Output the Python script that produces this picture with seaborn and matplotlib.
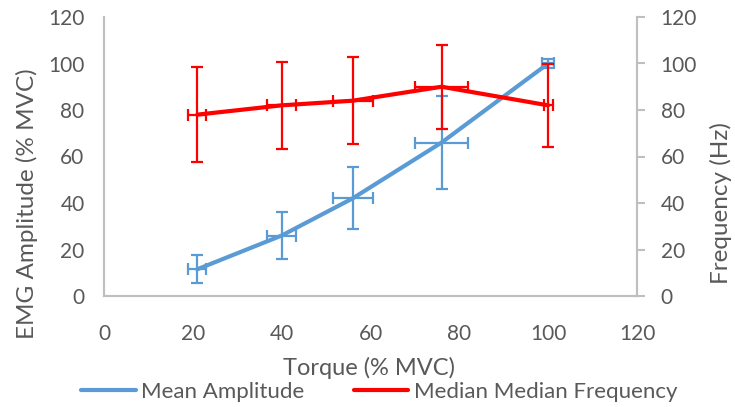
import pandas as pd
import matplotlib.pyplot as plt
import seaborn as sns

# data
torque = [21, 40, 56, 76, 100]
torque_err = [2, 3.2, 4.5, 6, 1.3]
amplitude = [11.5, 26, 42, 66, 100]
amplitude_err = [6, 10.3, 13.3, 20, 2]
frequency = [78, 82, 84, 90, 82]
frequency_err = [20.3, 18.6, 18.6, 18, 17.8]
freq_torque_err = [2, 3.2, 4.5, 6, 1]

BLUE = "#5B9BD5"
RED = "#FF0000"
GRAY = "#BFBFBF"
TEXT = "#595959"

sns.set_theme(style="white")
plt.rcParams['font.family'] = ['Lato', 'DejaVu Sans']
plt.rcParams['text.color'] = TEXT
plt.rcParams['axes.labelcolor'] = TEXT
plt.rcParams['xtick.color'] = TEXT
plt.rcParams['ytick.color'] = TEXT

df = pd.DataFrame({"Torque": torque, "Amplitude": amplitude, "Frequency": frequency})

fig = plt.figure(figsize=(7.35, 4.07), dpi=100)
ax = fig.add_axes([104 / 735, 1 - 296 / 407, 533 / 735, 279 / 407])
ax2 = ax.twinx()

sns.lineplot(data=df, x="Torque", y="Amplitude", ax=ax, color=BLUE, linewidth=3, label="Mean Amplitude", legend=False)
ax.errorbar(torque, amplitude, xerr=torque_err, yerr=amplitude_err, fmt="none",
            ecolor=BLUE, elinewidth=1.6, capsize=4, capthick=1.6)

sns.lineplot(data=df, x="Torque", y="Frequency", ax=ax2, color=RED, linewidth=3, label="Median Median Frequency", legend=False)
ax2.errorbar(torque, frequency, xerr=freq_torque_err, yerr=frequency_err, fmt="none",
             ecolor=RED, elinewidth=1.6, capsize=4, capthick=1.6)

for a in (ax, ax2):
    a.set_xlim(0, 120)
    a.set_ylim(0, 120)
    a.set_yticks(range(0, 121, 20))
    for s in a.spines.values():
        s.set_color(GRAY)
        s.set_linewidth(1.5)
    a.spines["top"].set_visible(False)

ax.set_xticks(range(0, 121, 20))
ax.tick_params(axis="x", length=0, labelsize=15, pad=20)
ax.tick_params(axis="y", length=0, labelsize=15, pad=14)
ax2.tick_params(axis="y", length=6, width=1.5, color=GRAY, labelsize=15, pad=11)

ax.set_xlabel("Torque (% MVC)", fontsize=17)
ax.set_ylabel("EMG Amplitude (% MVC)", fontsize=17.5)
ax2.set_ylabel("Frequency (Hz)", fontsize=17.5)
ax.xaxis.label.set_va("center")
ax.yaxis.label.set_va("center")
ax2.yaxis.label.set_va("center")
ax.xaxis.set_label_coords(0.502, 1 - 368 / 407, transform=fig.transFigure)
ax.yaxis.set_label_coords(27 / 735, 0.5, transform=fig.transFigure)
ax2.yaxis.set_label_coords(721 / 735, 0.5, transform=fig.transFigure)

h1, l1 = ax.get_legend_handles_labels()
h2, l2 = ax2.get_legend_handles_labels()
fig.legend(h1 + h2, l1 + l2, loc="center", bbox_to_anchor=(0.516, 1 - 392 / 407), ncol=2,
           frameon=False, fontsize=16, handlelength=2.45, handletextpad=0.25, columnspacing=2.2,
           borderpad=0)

fig.savefig("out.png", dpi=100)
